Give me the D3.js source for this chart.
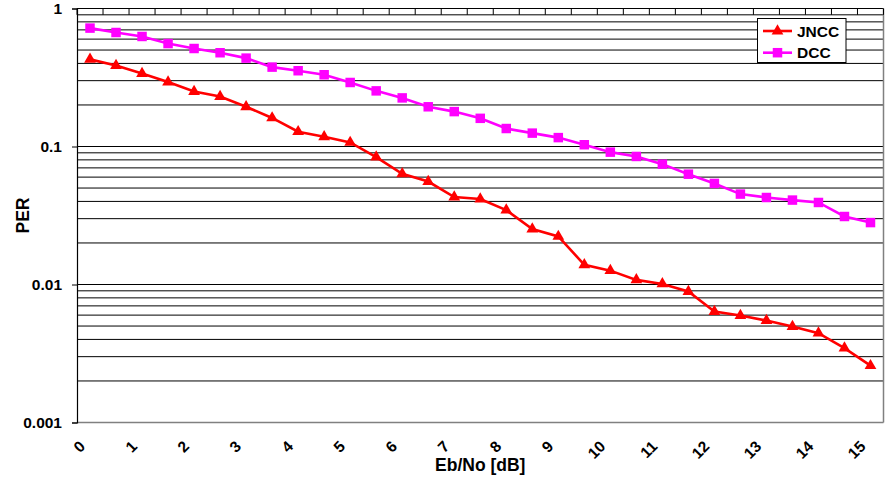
<!DOCTYPE html>
<html>
<head>
<meta charset="utf-8">
<script src="https://cdn.jsdelivr.net/npm/d3@7"></script>
<style>
  html, body { margin: 0; padding: 0; background: #fff; }
  svg { display: block; font-family: "Liberation Sans", Arial, sans-serif; }
</style>
</head>
<body>
<svg id="chart" width="889" height="479"></svg>
<script>
// Eb/No in dB, half-dB steps from 0 to 15
const ebno = d3.range(0, 31).map(i => i / 2);
const tickLabels = ["0","1","2","3","4","5","6","7","8","9","10","11","12","13","14","15"];
const seriesNames = ["JNCC", "DCC"];
const seriesColors = ["#ff0000", "#ff00ff"];

const jncc = [0.428, 0.386, 0.338, 0.293, 0.250, 0.230, 0.194, 0.161, 0.128, 0.1175,
              0.107, 0.0838, 0.0634, 0.0557, 0.0430, 0.0416, 0.0346, 0.0252, 0.0223, 0.0139,
              0.0126, 0.0108, 0.0101, 0.0089, 0.00637, 0.00596, 0.00548, 0.00496, 0.00444, 0.00346,
              0.00258];
const dcc = [0.721, 0.670, 0.627, 0.557, 0.513, 0.478, 0.437, 0.376, 0.354, 0.331,
             0.291, 0.253, 0.225, 0.194, 0.179, 0.160, 0.135, 0.125, 0.116, 0.103,
             0.091, 0.0847, 0.0745, 0.063, 0.054, 0.0452, 0.0427, 0.0409, 0.0393, 0.0311,
             0.0281];
const yTickValues = [1, 0.1, 0.01, 0.001];
const yTickLabels = ["1", "0.1", "0.01", "0.001"];

const svg = d3.select("#chart");
const plotL = 77, plotR = 883.5, plotT = 8.5, plotB = 422.5;

const x = d3.scaleBand().domain(ebno).range([plotL, plotR]);
const y = d3.scaleLog().domain([0.001, 1]).range([plotB, plotT]);

// plot background
svg.append("rect").attr("x", plotL).attr("y", plotT)
  .attr("width", plotR - plotL).attr("height", plotB - plotT).attr("fill", "#fff");

// horizontal gridlines at every 1..9 step of each decade
const gridVals = [];
[0.001, 0.01, 0.1].forEach(d => { for (let k = 1; k <= 9; k++) gridVals.push(+(k * d).toPrecision(3)); });
gridVals.push(1);
svg.append("g").selectAll("line").data(gridVals.filter(v => v > 0.001)).join("line")
  .attr("x1", plotL).attr("x2", plotR)
  .attr("y1", d => y(d)).attr("y2", d => y(d))
  .attr("stroke", "#000").attr("stroke-width", 1);

// bottom and right borders of the plot area
svg.append("line").attr("x1", plotL).attr("x2", plotR).attr("y1", plotB).attr("y2", plotB)
  .attr("stroke", "#808080").attr("stroke-width", 1.5);
svg.append("line").attr("x1", plotR).attr("x2", plotR).attr("y1", plotT).attr("y2", plotB)
  .attr("stroke", "#808080").attr("stroke-width", 1.5);

// category tick marks hanging from the top edge
const bounds = ebno.map(v => x(v)).concat([plotR]);
svg.append("g").selectAll("line").data(bounds).join("line")
  .attr("x1", d => d).attr("x2", d => d)
  .attr("y1", plotT).attr("y2", y(0.9))
  .attr("stroke", "#000").attr("stroke-width", 1);

// value axis
const yAxis = d3.axisLeft(y).tickValues(yTickValues)
  .tickFormat((d, i) => yTickLabels[i]).tickSize(5).tickPadding(10);
const yg = svg.append("g").attr("transform", `translate(${plotL},0)`).call(yAxis);
yg.select(".domain").attr("stroke", "#000").attr("stroke-width", 1.2);
yg.selectAll(".tick line").attr("stroke", "#000");
yg.selectAll(".tick text")
  .attr("font-family", "Liberation Sans, Arial, sans-serif")
  .attr("font-size", 15.5).attr("font-weight", "bold").attr("fill", "#000");

// category labels, every whole dB, slanted
const labelled = ebno.filter(v => Number.isInteger(v));
svg.append("g").selectAll("text").data(labelled).join("text")
  .attr("transform", d => `translate(${x(d) + x.bandwidth() / 2 - 4},${plotB + 25}) rotate(-45)`)
  .attr("text-anchor", "end")
  .attr("font-size", 15.5).attr("font-weight", "bold")
  .text((d, i) => tickLabels[i]);

// axis titles
svg.append("text")
  .attr("transform", `translate(29,${(plotT + plotB) / 2}) rotate(-90)`)
  .attr("text-anchor", "middle").attr("font-size", 17.5).attr("font-weight", "bold")
  .text("PER");
svg.append("text")
  .attr("x", (plotL + plotR) / 2).attr("y", 471)
  .attr("text-anchor", "middle").attr("font-size", 17.5).attr("font-weight", "bold")
  .text("Eb/No [dB]");

// series lines and markers
const cx = d => x(d) + x.bandwidth() / 2;
const series = [jncc, dcc];
const tri = d3.symbol().type(d3.symbolTriangle).size(60);
const sq = d3.symbol().type(d3.symbolSquare).size(90);

series.forEach((vals, s) => {
  const pts = ebno.map((e, i) => [cx(e), y(vals[i])]);
  svg.append("path").datum(pts)
    .attr("d", d3.line())
    .attr("fill", "none").attr("stroke", seriesColors[s]).attr("stroke-width", 2.6);
  svg.append("g").selectAll("path").data(pts).join("path")
    .attr("transform", d => `translate(${d[0]},${d[1]})`)
    .attr("d", s === 0 ? tri : sq)
    .attr("fill", seriesColors[s]);
});

// legend
const lg = svg.append("g");
lg.append("rect").attr("x", 757.5).attr("y", 18.5).attr("width", 88.5).attr("height", 44)
  .attr("fill", "#fff").attr("stroke", "#000").attr("stroke-width", 1);
seriesNames.forEach((name, s) => {
  const ly = 31 + s * 21.7;
  lg.append("line").attr("x1", 763).attr("x2", 792).attr("y1", ly).attr("y2", ly)
    .attr("stroke", seriesColors[s]).attr("stroke-width", 2.6);
  lg.append("path").attr("transform", `translate(777.5,${ly})`)
    .attr("d", s === 0 ? tri : sq).attr("fill", seriesColors[s]);
  lg.append("text").attr("x", 797).attr("y", ly + 5.6)
    .attr("font-size", 15.5).attr("font-weight", "bold").text(name);
});
</script>
</body>
</html>
